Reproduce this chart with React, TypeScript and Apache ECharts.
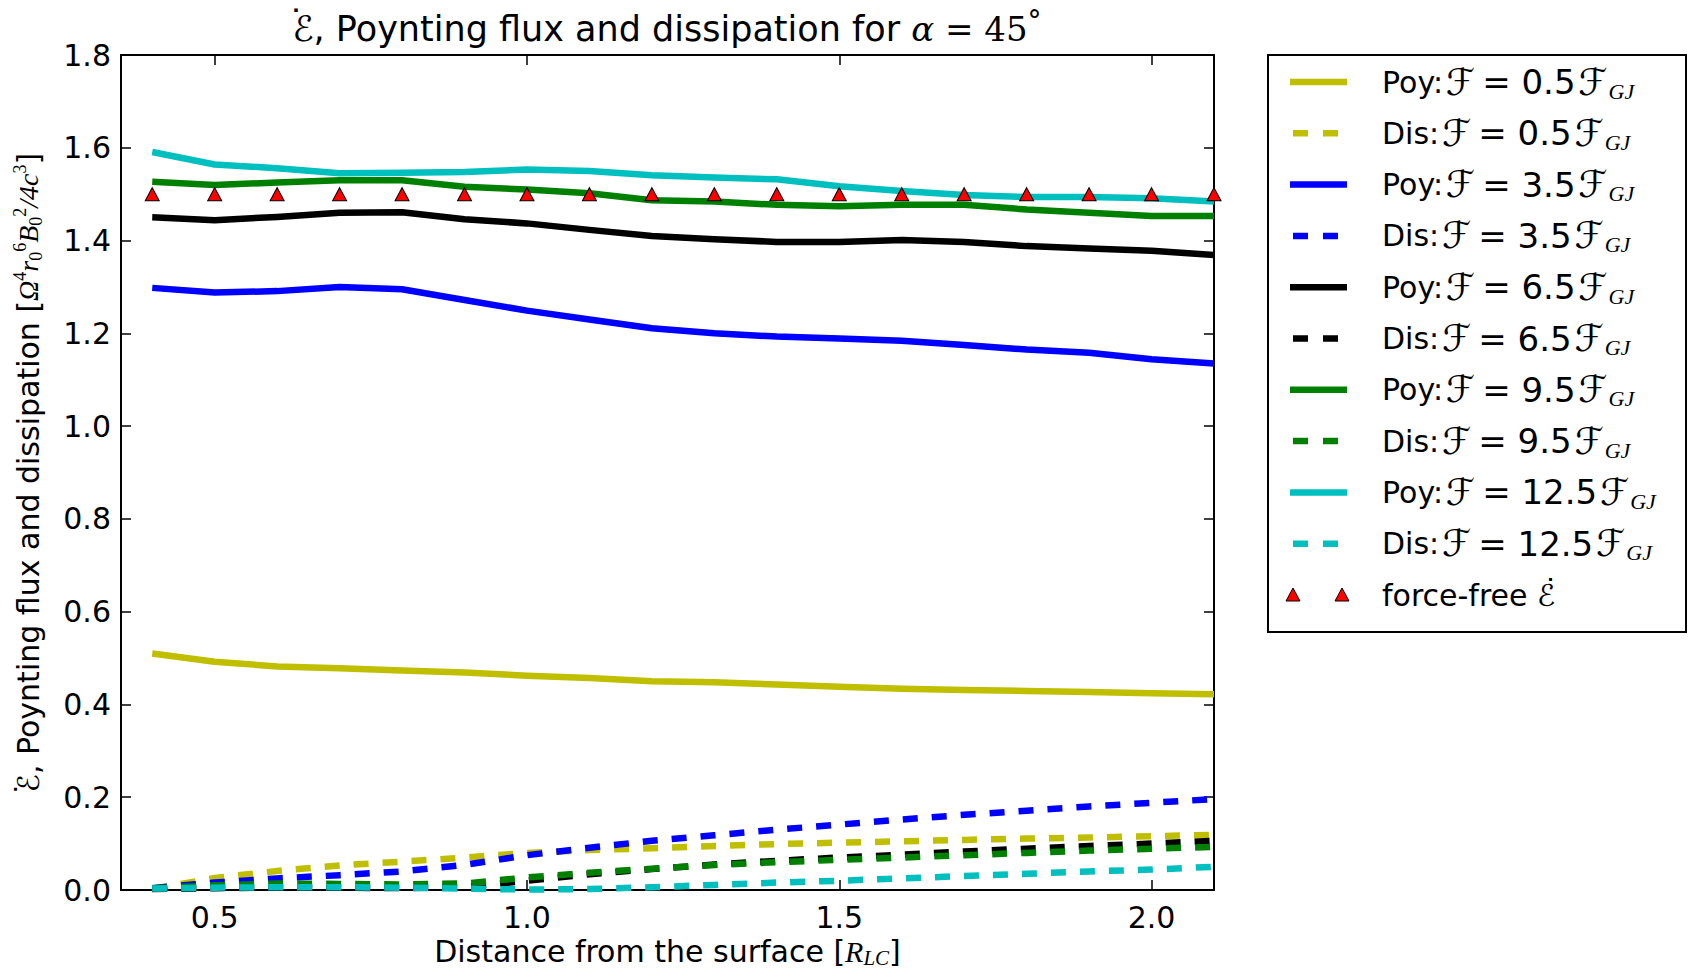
import React, { useEffect, useRef } from "react";
import * as echarts from "echarts";

// Distance from the surface, in light-cylinder radii
const distance = [0.4, 0.5, 0.6, 0.7, 0.8, 0.9, 1.0, 1.1, 1.2, 1.3, 1.4, 1.5, 1.6, 1.7, 1.8, 1.9, 2.0, 2.1];

// Poynting flux for each pair-multiplicity level
const poy05 = [0.510, 0.492, 0.482, 0.478, 0.473, 0.469, 0.462, 0.457, 0.450, 0.448, 0.443, 0.438, 0.434, 0.431, 0.429, 0.427, 0.424, 0.422];
const poy35 = [1.298, 1.288, 1.291, 1.300, 1.295, 1.272, 1.249, 1.230, 1.211, 1.200, 1.193, 1.189, 1.184, 1.175, 1.165, 1.158, 1.144, 1.135];
const poy65 = [1.450, 1.444, 1.451, 1.460, 1.461, 1.446, 1.437, 1.423, 1.410, 1.403, 1.397, 1.397, 1.401, 1.397, 1.388, 1.383, 1.378, 1.369];
const poy95 = [1.527, 1.520, 1.525, 1.530, 1.530, 1.516, 1.510, 1.502, 1.487, 1.484, 1.477, 1.474, 1.477, 1.477, 1.467, 1.460, 1.453, 1.453];
const poy125 = [1.591, 1.564, 1.556, 1.545, 1.546, 1.548, 1.553, 1.550, 1.541, 1.536, 1.532, 1.517, 1.507, 1.498, 1.494, 1.494, 1.491, 1.484];

// Dissipation for each level
const dis05 = [0.002, 0.026, 0.041, 0.053, 0.061, 0.070, 0.080, 0.086, 0.090, 0.095, 0.099, 0.102, 0.105, 0.108, 0.111, 0.113, 0.116, 0.119];
const dis35 = [0.004, 0.016, 0.025, 0.032, 0.040, 0.054, 0.075, 0.091, 0.106, 0.118, 0.130, 0.141, 0.152, 0.162, 0.171, 0.180, 0.188, 0.196];
const dis65 = [0.002, 0.004, 0.005, 0.005, 0.004, 0.006, 0.020, 0.034, 0.045, 0.055, 0.063, 0.070, 0.076, 0.083, 0.089, 0.095, 0.100, 0.106];
const dis95 = [0.004, 0.010, 0.014, 0.013, 0.012, 0.014, 0.027, 0.037, 0.046, 0.054, 0.060, 0.065, 0.070, 0.075, 0.080, 0.085, 0.089, 0.093];
const dis125 = [0.003, 0.005, 0.006, 0.006, 0.005, 0.003, 0.001, 0.002, 0.006, 0.011, 0.016, 0.020, 0.025, 0.030, 0.035, 0.040, 0.044, 0.050];

// Spin-down power of the force-free solution
const forceFree = [1.5, 1.5, 1.5, 1.5, 1.5, 1.5, 1.5, 1.5, 1.5, 1.5, 1.5, 1.5, 1.5, 1.5, 1.5, 1.5, 1.5, 1.5];

const levels = ["0.5", "3.5", "6.5", "9.5", "12.5"];
const levelColors = ["#bfbf00", "#0000ff", "#000000", "#008000", "#00bfbf"];
const poyValues = [poy05, poy35, poy65, poy95, poy125];
const disValues = [dis05, dis35, dis65, dis95, dis125];

const xTickValues = [0.5, 1.0, 1.5, 2.0];

const SANS = "'DejaVu Sans', sans-serif";
const MATH = "'Liberation Serif', 'DejaVu Serif', serif";
const MATH_WIDE = "'DejaVu Serif', serif";

const SCRIPT_E = "ℰ";
const SCRIPT_F = "ℱ";
// zero-width overlay token holding the time-derivative dot above ℰ
const DOT = "\u2009˙";
const E_DOT_RICH = `{d|${DOT}}{m|${SCRIPT_E}}`;

const LINE_W = 6.5;
const DASH = [15, 14];

const GRID = { left: 121, top: 55, width: 1093, height: 835 };

const pairs = (ys: number[]) => distance.map((x, i) => [x, ys[i]]);

// dot token: lineHeight chosen so the dot sits just above the capital
const dotLine = (lineHeight: number, size: number) => lineHeight - 0.36 * size;

// Rich styles (ECharts option format) for the axis names
const axisRich = (size: number, mathSize: number, scriptSize: number) => ({
  t: { fontFamily: SANS, fontSize: size, lineHeight: 34, color: "#000" },
  m: { fontFamily: SANS, fontStyle: "italic", fontSize: size, lineHeight: 34, color: "#000" },
  d: { fontFamily: SANS, fontSize: size, width: 0, lineHeight: dotLine(34, size), verticalAlign: "top", color: "#000" },
  i: { fontFamily: MATH, fontStyle: "italic", fontSize: mathSize, lineHeight: 34, color: "#000" },
  p: { fontFamily: MATH, fontSize: scriptSize, lineHeight: 18, verticalAlign: "top", color: "#000" },
  b: { fontFamily: MATH, fontSize: scriptSize, lineHeight: 20, verticalAlign: "bottom", color: "#000" },
  bi: { fontFamily: MATH, fontStyle: "italic", fontSize: scriptSize + 1, lineHeight: 20, verticalAlign: "bottom", color: "#000" },
});

// Rich styles (zrender format) for the legend labels
const legendRich = {
  t: { fontFamily: SANS, fontSize: 30, lineHeight: 40, fill: "#000" },
  n: { fontFamily: SANS, fontSize: 34, lineHeight: 40, padding: [0, 0, 0, 6], fill: "#000" },
  f: { fontFamily: SANS, fontStyle: "italic", fontSize: 37, lineHeight: 40, padding: [0, 1, 0, 3], fill: "#000" },
  m: { fontFamily: SANS, fontStyle: "italic", fontSize: 30, lineHeight: 40, fill: "#000" },
  d: { fontFamily: SANS, fontSize: 30, width: 0, lineHeight: dotLine(40, 30), verticalAlign: "top", fill: "#000" },
  s: { fontFamily: MATH, fontStyle: "italic", fontSize: 22, lineHeight: 26, verticalAlign: "bottom", fill: "#000" },
};

const LEGEND = { x: 1268, y: 55, w: 418, h: 577, rowTop: 82, rowStep: 51.3, lineX1: 1290, lineX2: 1347, textX: 1382 };

function buildLegend() {
  const els: any[] = [
    {
      type: "rect",
      shape: { x: LEGEND.x, y: LEGEND.y, width: LEGEND.w, height: LEGEND.h },
      style: { fill: "#fff", stroke: "#000", lineWidth: 2 },
      z: 10,
    },
  ];
  const rows: { label: string; color: string; dashed: boolean; markers?: boolean }[] = [];
  levels.forEach((lv, i) => {
    rows.push({ label: `{t|Poy:}{f|${SCRIPT_F}}{n|= ${lv}}{f|${SCRIPT_F}}{s|GJ}`, color: levelColors[i], dashed: false });
    rows.push({ label: `{t|Dis:}{f|${SCRIPT_F}}{n|= ${lv}}{f|${SCRIPT_F}}{s|GJ}`, color: levelColors[i], dashed: true });
  });
  rows.push({ label: `{t|force-free }${E_DOT_RICH}`, color: "#ff0000", dashed: false, markers: true });

  rows.forEach((row, r) => {
    const cy = LEGEND.rowTop + r * LEGEND.rowStep;
    if (row.markers) {
      [1293, 1342].forEach((cx) => {
        els.push({
          type: "polygon",
          shape: { points: [[cx - 7, cy + 6], [cx, cy - 7], [cx + 7, cy + 6]] },
          style: { fill: "#ff0000", stroke: "#000", lineWidth: 1 },
          z: 11,
        });
      });
    } else {
      els.push({
        type: "line",
        shape: row.dashed
          ? { x1: 1293, y1: cy, x2: 1338, y2: cy }
          : { x1: LEGEND.lineX1, y1: cy, x2: LEGEND.lineX2, y2: cy },
        style: {
          stroke: row.color,
          lineWidth: LINE_W,
          lineDash: row.dashed ? [15, 15] : null,
          lineCap: "butt",
        },
        z: 11,
      });
    }
    els.push({
      type: "text",
      x: LEGEND.textX,
      y: cy,
      style: { text: row.label, rich: legendRich, verticalAlign: "middle", align: "left" },
      z: 11,
    });
  });
  return els;
}

export default function App() {
  const ref = useRef<HTMLDivElement>(null);

  useEffect(() => {
    if (!ref.current) return;
    const chart = echarts.init(ref.current, null, { renderer: "svg" });

    const series: any[] = [];
    levels.forEach((lv, i) => {
      series.push({
        name: `Poy:ℱ = ${lv}ℱGJ`,
        type: "line",
        data: pairs(poyValues[i]),
        symbol: "none",
        showSymbol: false,
        clip: true,
        lineStyle: { color: levelColors[i], width: LINE_W, type: "solid", cap: "butt", join: "round" },
      });
      series.push({
        name: `Dis:ℱ = ${lv}ℱGJ`,
        type: "line",
        data: pairs(disValues[i]),
        symbol: "none",
        showSymbol: false,
        clip: true,
        lineStyle: { color: levelColors[i], width: LINE_W, type: DASH, cap: "butt", join: "round" },
      });
    });
    series.push({
      name: "force-free ℰ̇",
      type: "scatter",
      data: pairs(forceFree),
      symbol: "triangle",
      symbolSize: [14, 13],
      clip: true,
      itemStyle: { color: "#ff0000", borderColor: "#000", borderWidth: 1, opacity: 1 },
      z: 5,
    });

    const axisLine = { show: true, onZero: false, lineStyle: { color: "#000", width: 2 } };
    const tickStyle = { color: "#000", width: 1.5 };

    const titleStyle = (family: string, size: number, italic = false, extra: any = {}) => ({
      fontFamily: family,
      fontSize: size,
      fontStyle: italic ? "italic" : "normal",
      fontWeight: "normal",
      lineHeight: 46,
      color: "#000",
      ...extra,
    });

    chart.setOption({
      animation: false,
      backgroundColor: "#ffffff",
      title: {
        text: `${E_DOT_RICH}{t|, Poynting flux and dissipation for }{i|α}{r| = 45}{o|°}`,
        left: 667,
        top: 6,
        padding: 0,
        textAlign: "center",
        textStyle: {
          fontWeight: "normal",
          rich: {
            t: titleStyle(SANS, 35),
            m: titleStyle(SANS, 35, true),
            d: titleStyle(SANS, 35, false, { width: 0, lineHeight: dotLine(46, 35), verticalAlign: "top" }),
            i: titleStyle(MATH_WIDE, 34, true),
            r: titleStyle(MATH_WIDE, 34),
            o: titleStyle(MATH_WIDE, 28, false, { lineHeight: 38, verticalAlign: "top" }),
          },
        },
      },
      grid: { ...GRID, containLabel: false, outerBoundsMode: "none" },
      xAxis: [
        {
          type: "value",
          position: "bottom",
          min: 0.35,
          max: 2.1,
          axisLine,
          axisTick: { show: true, inside: true, length: 10, customValues: xTickValues, lineStyle: tickStyle },
          axisLabel: {
            fontFamily: SANS,
            fontSize: 30,
            color: "#000",
            margin: 12,
            customValues: xTickValues,
            formatter: (v: number) => v.toFixed(1),
          },
          splitLine: { show: false },
          name: "{t|Distance from the surface [}{i|R}{bi|LC}{t|]}",
          nameLocation: "middle",
          nameGap: 44,
          nameTextStyle: { rich: axisRich(30, 30, 20) },
        },
        {
          type: "value",
          position: "top",
          min: 0.35,
          max: 2.1,
          axisLine,
          axisTick: { show: true, inside: true, length: 10, customValues: xTickValues, lineStyle: tickStyle },
          axisLabel: { show: false },
          splitLine: { show: false },
        },
      ],
      yAxis: [
        {
          type: "value",
          position: "left",
          min: 0,
          max: 1.8,
          interval: 0.2,
          axisLine,
          axisTick: { show: true, inside: true, length: 10, lineStyle: tickStyle },
          axisLabel: {
            fontFamily: SANS,
            fontSize: 30,
            color: "#000",
            margin: 10,
            formatter: (v: number) => v.toFixed(1),
          },
          splitLine: { show: false },
          name: `${E_DOT_RICH}{t|, Poynting flux and dissipation [}{i|Ω}{p|4}{i|r}{b|0}{p|6}{i|B}{b|0}{p|2}{i|/4c}{p|3}{t|]}`,
          nameLocation: "middle",
          nameRotate: 90,
          nameGap: 76,
          nameTextStyle: { rich: axisRich(30, 28, 18) },
        },
        {
          type: "value",
          position: "right",
          min: 0,
          max: 1.8,
          interval: 0.2,
          axisLine,
          axisTick: { show: true, inside: true, length: 10, lineStyle: tickStyle },
          axisLabel: { show: false },
          splitLine: { show: false },
        },
      ],
      series,
      graphic: buildLegend(),
    });

    return () => chart.dispose();
  }, []);

  return (
    <div
      ref={ref}
      style={{ position: "fixed", left: 0, top: 0, width: 1688, height: 971, background: "#fff" }}
    />
  );
}
